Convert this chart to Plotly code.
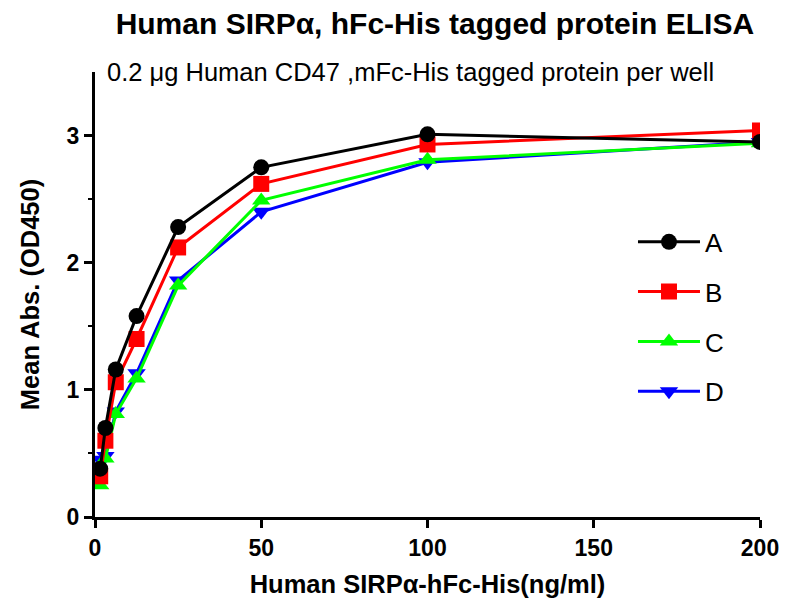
import plotly.graph_objects as go

conc = [1.5625, 3.125, 6.25, 12.5, 25, 50, 100, 200]
series_names = ["A", "B", "C", "D"]
a_vals = [0.38, 0.70, 1.16, 1.58, 2.28, 2.75, 3.01, 2.95]
b_vals = [0.32, 0.60, 1.06, 1.40, 2.12, 2.62, 2.93, 3.04]
c_vals = [0.25, 0.46, 0.81, 1.09, 1.82, 2.49, 2.81, 2.94]
d_vals = [0.45, 0.48, 0.83, 1.13, 1.86, 2.40, 2.79, 2.95]
x_ticks = [0, 50, 100, 150, 200]
y_ticks = [0, 1, 2, 3]

styles = {
    "A": ("black", "circle"),
    "B": ("#ff0000", "square"),
    "C": ("#00ff00", "triangle-up"),
    "D": ("#0000ff", "triangle-down"),
}
values = {"A": a_vals, "B": b_vals, "C": c_vals, "D": d_vals}

fig = go.Figure()
# D drawn first so A ends up on top
for rank, name in reversed(list(enumerate(series_names))):
    color, sym = styles[name]
    fig.add_trace(go.Scatter(
        x=conc, y=values[name], name=name, mode="lines+markers",
        line=dict(color=color, width=3),
        marker=dict(color=color, symbol=sym, size=16),
        legendgroup=name, legendrank=rank,
    ))

# page body has an 8px margin, so the figure is a bit smaller than the window
fig.update_layout(
    width=792, height=592,
    paper_bgcolor="white", plot_bgcolor="white",
    margin=dict(l=87, r=40, t=64, b=83),
    title=dict(text="<b>Human SIRPα, hFc-His tagged protein ELISA</b>",
               x=0.539, xanchor="center", y=1.0, yref="container",
               yanchor="top", pad=dict(t=5),
               font=dict(family="Liberation Sans", size=30, color="black")),
    font=dict(family="Liberation Sans", color="black"),
    legend=dict(x=0.809, y=0.671, xanchor="left", yanchor="top",
                font=dict(size=26, color="black"),
                traceorder="grouped", tracegroupgap=13,
                itemwidth=62, bgcolor="rgba(0,0,0,0)"),
    annotations=[dict(text="0.2 μg Human CD47 ,mFc-His tagged protein per well",
                      x=0.015, xref="paper", xanchor="left",
                      y=1.0, yref="paper", yanchor="middle",
                      showarrow=False, font=dict(size=25.5, color="black"))],
)

fig.update_xaxes(
    range=[0, 200], tickvals=x_ticks,
    ticktext=["<b>%d</b>" % v for v in x_ticks],
    showgrid=False, zeroline=False, automargin=False,
    showline=True, linecolor="black", linewidth=3,
    ticks="outside", ticklen=8, tickwidth=3, tickcolor="black",
    tickfont=dict(size=23, color="black"),
    title=dict(text="<b>Human SIRPα-hFc-His(ng/ml)</b>", standoff=16,
               font=dict(size=25.5, color="black")),
)
fig.update_yaxes(
    range=[0, 3.5], tickvals=y_ticks,
    ticktext=["<b>%d</b>" % v for v in y_ticks],
    showgrid=False, zeroline=False, automargin=False,
    showline=True, linecolor="black", linewidth=3,
    ticks="outside", ticklen=8, tickwidth=3, tickcolor="black",
    tickfont=dict(size=23, color="black"),
    minor=dict(tickvals=[0.5, 1.5, 2.5], ticks="outside", ticklen=4,
               tickwidth=2, tickcolor="black"),
    title=dict(text="<b>Mean Abs. (OD450)</b>", standoff=20,
               font=dict(size=25.5, color="black")),
)

fig.write_html("out.html")
